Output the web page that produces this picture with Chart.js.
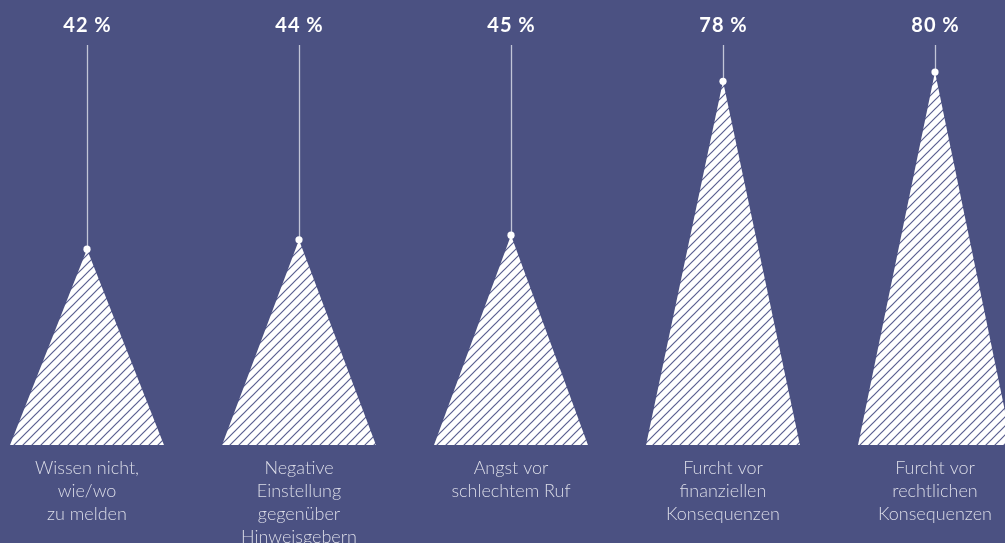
<!DOCTYPE html>
<html>
<head>
<meta charset="utf-8">
<script src="https://cdn.jsdelivr.net/npm/chart.js@4/dist/chart.umd.min.js"></script>
<style>
  html, body { margin: 0; padding: 0; background: #4b5182; }
  #wrap { width: 1005px; height: 543px; }
</style>
</head>
<body>
<div id="wrap"><canvas id="chart"></canvas></div>
<script>
const categories = [
  ["Wissen nicht,", "wie/wo", "zu melden"],
  ["Negative", "Einstellung", "gegenüber", "Hinweisgebern"],
  ["Angst vor", "schlechtem Ruf"],
  ["Furcht vor", "finanziellen", "Konsequenzen"],
  ["Furcht vor", "rechtlichen", "Konsequenzen"],
];
const values = [42, 44, 45, 78, 80];
const valueLabels = ["42 %", "44 %", "45 %", "78 %", "80 %"];

const halfWidth = 0.363; // half base of each triangle, in category units

// white with thin diagonal stripes
function makeHatch() {
  const s = 9;
  const c = document.createElement("canvas");
  c.width = s; c.height = s;
  const g = c.getContext("2d");
  g.fillStyle = "#ffffff";
  g.fillRect(0, 0, s, s);
  g.strokeStyle = "#5a5f90";
  g.lineWidth = 1.2;
  g.beginPath();
  g.moveTo(0, s); g.lineTo(s, 0);
  g.moveTo(-1, 1); g.lineTo(1, -1);
  g.moveTo(s - 1, s + 1); g.lineTo(s + 1, s - 1);
  g.stroke();
  return g.createPattern(c, "repeat");
}
const hatch = makeHatch();

const triangleSets = values.map((v, i) => ({
  type: "scatter",
  showLine: true,
  data: [
    { x: i - halfWidth, y: 0 },
    { x: i, y: v },
    { x: i + halfWidth, y: 0 },
  ],
  fill: "origin",
  backgroundColor: hatch,
  borderWidth: 0,
  borderColor: "transparent",
  pointRadius: 0,
  tension: 0,
  order: 2,
}));

const dotSet = {
  type: "scatter",
  data: values.map((v, i) => ({ x: i, y: v })),
  backgroundColor: "#ffffff",
  borderWidth: 0,
  pointRadius: 3.6,
  pointHoverRadius: 3.6,
  order: 0,
};

const textPlugin = {
  id: "texts",
  beforeDatasetsDraw(chart) {
    const { ctx, scales } = chart;
    ctx.save();
    ctx.strokeStyle = "rgba(215,217,230,0.85)";
    ctx.lineWidth = 1.3;
    values.forEach((v, i) => {
      const x = Math.round(scales.x.getPixelForValue(i)) + 0.5;
      ctx.beginPath();
      ctx.moveTo(x, 45);
      ctx.lineTo(x, scales.y.getPixelForValue(v));
      ctx.stroke();
    });
    ctx.restore();
  },
  afterDatasetsDraw(chart) {
    const { ctx, scales } = chart;
    ctx.save();
    ctx.textAlign = "center";
    ctx.textBaseline = "middle";
    values.forEach((v, i) => {
      const x = scales.x.getPixelForValue(i);
      ctx.fillStyle = "#ffffff";
      ctx.font = "bold 20px Lato";
      ctx.letterSpacing = "1px";
      ctx.fillText(valueLabels[i], x + 0.5, 26);
      ctx.letterSpacing = "0px";
      ctx.fillStyle = "#dcdde8";
      ctx.font = "300 18px Lato";
      categories[i].forEach((line, k) => {
        ctx.fillText(line, x, 468 + k * 23);
      });
    });
    ctx.restore();
  },
};

new Chart(document.getElementById("chart"), {
  type: "scatter",
  data: { datasets: [...triangleSets, dotSet] },
  options: {
    responsive: true,
    maintainAspectRatio: false,
    animation: false,
    layout: { autoPadding: false, padding: { top: 0, bottom: 98, left: 0, right: 0 } },
    plugins: {
      legend: { display: false },
      tooltip: { enabled: false },
    },
    scales: {
      x: { type: "linear", min: -87 / 212, max: 918 / 212, display: false },
      y: { min: 0, max: 95.44, display: false },
    },
  },
  plugins: [textPlugin],
});
</script>
</body>
</html>
